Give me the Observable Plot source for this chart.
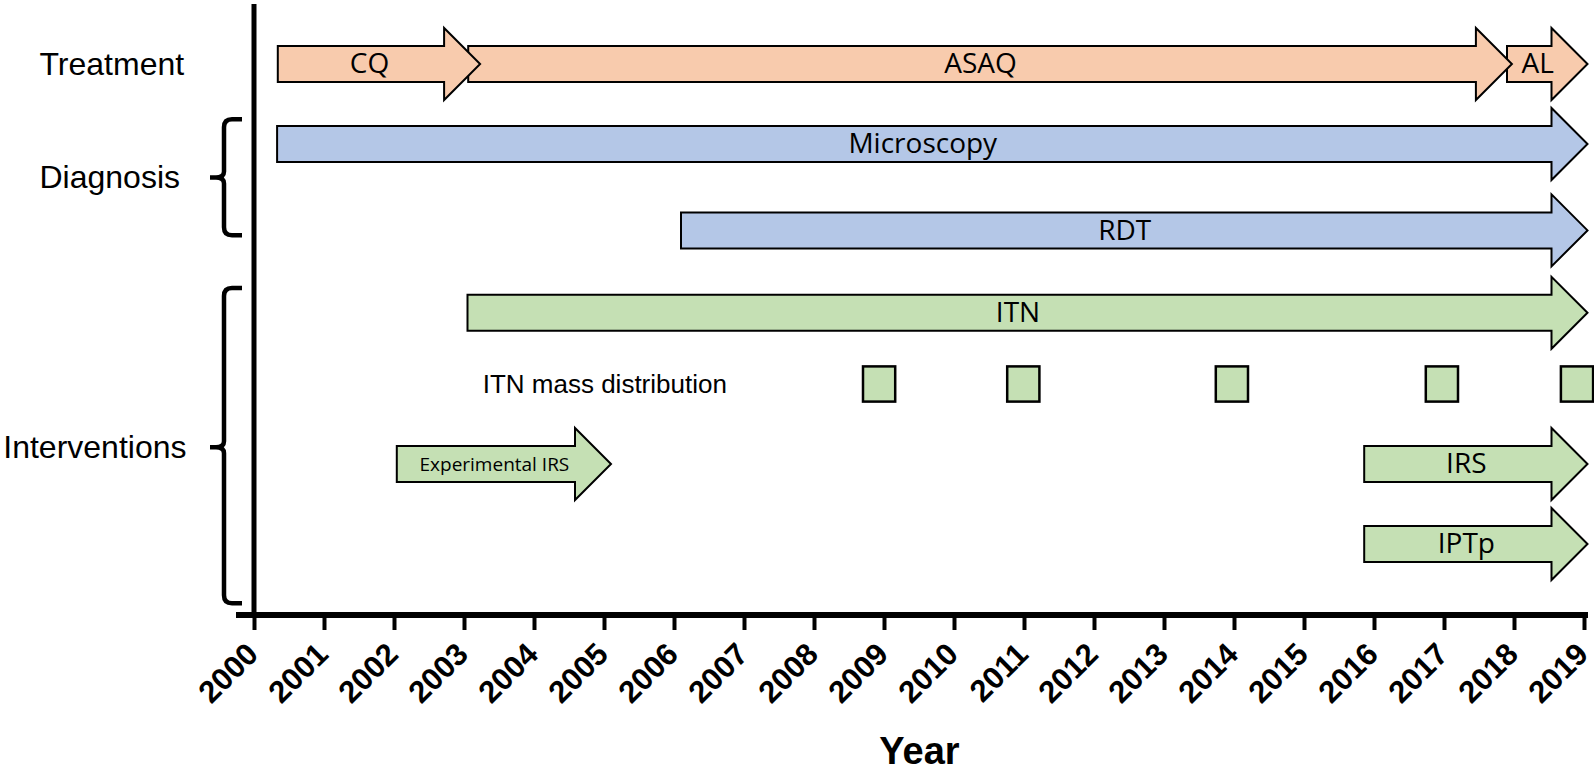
<!DOCTYPE html>
<html><head><meta charset="utf-8">
<script src="https://cdn.jsdelivr.net/npm/d3@7"></script>
<script src="https://cdn.jsdelivr.net/npm/@observablehq/plot@0.6"></script>
<style>html,body{margin:0;padding:0;background:#fff}#chart svg{display:block}</style>
</head><body><div id="chart"></div>
<script>
// ---- data ----
const years = d3.range(2000, 2020);
const arrowLabels = ["CQ", "ASAQ", "AL", "Microscopy", "RDT", "ITN", "Experimental IRS", "IRS", "IPTp"];
const arrowStart  = [2000.34, 2003.06, 2017.90, 2000.33, 2006.10, 2003.05, 2002.04, 2015.86, 2015.86];
const arrowEnd    = [2003.23, 2017.97, 2019.05, 2019.05, 2019.05, 2019.05, 2005.10, 2019.05, 2019.05];
const arrowLane   = [0, 0, 0, 1, 2.08, 3.11, 5, 5, 6];
const arrowGroup  = ["Treatment", "Treatment", "Treatment", "Diagnosis", "Diagnosis",
                     "Interventions", "Interventions", "Interventions", "Interventions"];
const massYears = [2008.93, 2010.99, 2013.97, 2016.97, 2018.90];
const massLane = 4;
const massLabel = "ITN mass distribution";
const massLabelYear = 2003.26;
const groupLabels = ["Treatment", "Diagnosis", "Interventions"];
const groupLane   = [0, 1.42, 4.79];
const braceGroups = ["Diagnosis", "Interventions"];
const braceTop    = [0.69, 2.80];
const braceMid    = [1.42, 4.79];
const braceBottom = [2.14, 6.74];
const xTitle = "Year";

// ---- tables built from the arrays ----
const arrows = arrowLabels.map((label, i) => ({label, start: arrowStart[i], end: arrowEnd[i], lane: arrowLane[i], group: arrowGroup[i]}));
const groups = groupLabels.map((label, i) => ({label, lane: groupLane[i]}));
const braces = braceGroups.map((g, i) => ({g, top: braceTop[i], mid: braceMid[i], bottom: braceBottom[i]}));
const masses = massYears.map(year => ({year, lane: massLane}));

const fillOf = {Treatment: "#F8CBAD", Diagnosis: "#B4C7E7", Interventions: "#C5E0B4"};
const SANS = "Liberation Sans, Arial, Helvetica, sans-serif";
const BODY_HALF = 18, HEAD_HALF = 36, HEAD_LEN = 36;

function arrowsRender(index, scales) {
  const g = d3.create("svg:g");
  for (const d of arrows.slice().reverse()) {
    const x0 = scales.x(d.start), x1 = scales.x(d.end), y = scales.y(d.lane);
    const hb = x1 - HEAD_LEN;
    const pts = [[x0, y - BODY_HALF], [hb, y - BODY_HALF], [hb, y - HEAD_HALF], [x1, y],
                 [hb, y + HEAD_HALF], [hb, y + BODY_HALF], [x0, y + BODY_HALF]];
    g.append("path")
      .attr("d", "M" + pts.map(p => p.join(",")).join("L") + "Z")
      .attr("fill", fillOf[d.group])
      .attr("stroke", "#000")
      .attr("stroke-width", 2)
      .attr("stroke-linejoin", "miter");
  }
  return g.node();
}

function decorRender(index, scales, values, dimensions) {
  const g = d3.create("svg:g");
  const {marginRight, marginBottom, width, height, marginTop} = dimensions;
  const x0 = scales.x(2000);
  const yb = height - marginBottom;
  for (const b of braces) {
    const t = scales.y(b.top), m = scales.y(b.mid), bt = scales.y(b.bottom);
    const vx = x0 - 30, ax = x0 - 12, px = x0 - 44;
    const d = `M${ax},${t} L${vx + 8},${t} Q${vx},${t} ${vx},${t + 8} L${vx},${m - 6} Q${vx},${m} ${vx - 8},${m} L${px},${m}` +
              ` M${vx - 8},${m} Q${vx},${m} ${vx},${m + 6} L${vx},${bt - 8} Q${vx},${bt} ${vx + 8},${bt} L${ax},${bt}`;
    g.append("path").attr("d", d).attr("fill", "none").attr("stroke", "#000").attr("stroke-width", 4.5);
  }
  g.append("line").attr("x1", x0).attr("x2", x0).attr("y1", marginTop).attr("y2", yb + 3)
    .attr("stroke", "#000").attr("stroke-width", 5);
  g.append("line").attr("x1", x0 - 18).attr("x2", width - marginRight + 4).attr("y1", yb).attr("y2", yb)
    .attr("stroke", "#000").attr("stroke-width", 6);
  return g.node();
}

const chart = Plot.plot({
  width: 1594,
  height: 770,
  marginLeft: 254,
  marginRight: 10,
  marginTop: 4,
  marginBottom: 155,
  x: {domain: [2000, 2019]},
  y: {domain: [-0.75, 6.8875], reverse: true, axis: null},
  marks: [
    Plot.axisX({ticks: years, tickSize: 15, strokeWidth: 4, stroke: "#000", fill: "none", label: null}),
    arrowsRender,
    Plot.rect(masses, {x1: d => d.year - 0.23, x2: d => d.year + 0.23, y1: d => d.lane - 0.22, y2: d => d.lane + 0.22,
      fill: fillOf.Interventions, stroke: "#000", strokeWidth: 2.5}),
    decorRender,
    Plot.text(years, {x: d => d, text: d => String(d), frameAnchor: "bottom", dy: 25, dx: -10, rotate: -45,
      textAnchor: "end", lineAnchor: "top", fontFamily: SANS, fontSize: 31, fontWeight: "bold", fill: "#000"}),
    Plot.text(arrows.filter(d => d.label !== "Experimental IRS"), {x: d => (d.start + d.end) / 2, y: "lane", text: "label",
      dx: -10, fontFamily: "Open Sans", fontSize: 28, fill: "#000"}),
    Plot.text(arrows.filter(d => d.label === "Experimental IRS"), {x: d => (d.start + d.end) / 2, y: "lane", text: "label",
      dx: -10, fontFamily: "Open Sans", fontSize: 19, fill: "#000"}),
    Plot.text([massLabel], {x: massLabelYear, y: massLane, text: d => d, textAnchor: "start",
      fontFamily: SANS, fontSize: 26, fill: "#000"}),
    Plot.text(groups.filter(d => d.label !== "Interventions"), {y: "lane", text: "label", frameAnchor: "left", dx: -215,
      textAnchor: "start", fontFamily: SANS, fontSize: 32, fill: "#000"}),
    Plot.text(groups.filter(d => d.label === "Interventions"), {y: "lane", text: "label", frameAnchor: "left", dx: -68,
      textAnchor: "end", fontFamily: SANS, fontSize: 32, fill: "#000"}),
    Plot.text([xTitle], {frameAnchor: "bottom", dy: 148, lineAnchor: "bottom", text: d => d, textAnchor: "middle",
      fontFamily: SANS, fontSize: 38, fontWeight: "bold", fill: "#000"})
  ]
});
document.getElementById("chart").appendChild(chart);
</script>
</body></html>
